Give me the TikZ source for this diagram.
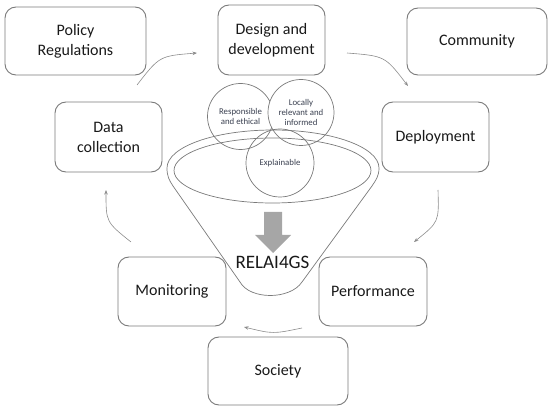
\documentclass[tikz,border=0pt]{standalone}
\usepackage{fontspec}
\setmainfont{Carlito}
\usetikzlibrary{arrows.meta}
\definecolor{boxline}{HTML}{7A7A7A}
\definecolor{arrline}{HTML}{8C8C8C}
\definecolor{blockgray}{HTML}{A6A6A6}
\definecolor{circtext}{HTML}{3A4050}
\tikzset{
  box/.style={draw=boxline, line width=0.9pt, rounded corners=11pt, inner sep=0pt, outer sep=0pt,
    align=center, text=black!90, font=\fontsize{16}{20}\selectfont},
  ring/.style={draw=boxline, line width=0.7pt, circle, inner sep=0pt, outer sep=0pt,
    minimum size=66pt, align=center, text=circtext, font=\fontsize{8.8}{10}\selectfont},
  funnelline/.style={draw=boxline, line width=0.7pt},
  cyc/.style={draw=arrline, line width=0.6pt, -{Stealth[length=4.5pt,width=3.5pt]}},
}
\begin{document}
\begin{tikzpicture}[x=1pt,y=-1pt]
\useasboundingbox (0,0) rectangle (550,409);
% boxes
\node[box, minimum width=141pt, minimum height=68pt] (policy) at (75.5,41) {Policy\\Regulations};
\node[box, minimum width=107pt, minimum height=70pt] (design) at (271.5,40) {Design and\\development};
\node[box, minimum width=140pt, minimum height=67pt] (community) at (477,41.5) {Community};
\node[box, minimum width=107pt, minimum height=70pt] (data) at (108.5,137) {Data\\collection};
\node[box, minimum width=107pt, minimum height=70pt] (deploy) at (435.5,137) {Deployment};
\node[box, minimum width=108pt, minimum height=69pt] (monitor) at (172,291.5) {Monitoring};
\node[box, minimum width=108pt, minimum height=69pt] (perf) at (373,291.5) {Performance};
\node[box, minimum width=140pt, minimum height=68pt] (society) at (278,371) {Society};
% circles
\node[ring, fill=white] (resp) at (240.5,116.5) {Responsible\\and ethical};
\node[ring, fill=white] (local) at (301,112.5) {Locally\\relevant and\\informed};
\node[ring, minimum size=68pt] (expl) at (280,163) {Explainable};
% funnel
\draw[funnelline] (272.5,170.5) ellipse [x radius=98.5pt, y radius=32.5pt];
\draw[funnelline] (167,168) arc[start angle=180, end angle=0, x radius=106pt, y radius=38pt]
  .. controls (379,176) and (376,180) .. (372,186) -- (302,282)
  .. controls (290,300) and (250,300) .. (240,282) -- (173,186)
  .. controls (169,180) and (167,176) .. (167,168);
% block arrow
\fill[blockgray] (264,212) -- (282,212) -- (282,235) -- (291,235) -- (273,253) -- (255,235) -- (264,235) -- cycle;
\node[font=\fontsize{19}{22}\selectfont, text=black!90, inner sep=0pt] (relai) at (272.5,262.5) {RELAI4GS};
% cycle arrows
\coordinate (a1s) at (137,85);  \coordinate (a1e) at (197,53);
\coordinate (a2s) at (347,53);  \coordinate (a2e) at (408,86);
\coordinate (a3s) at (438,190); \coordinate (a3e) at (414,242);
\coordinate (a4s) at (302,328); \coordinate (a4e) at (244,327);
\coordinate (a5s) at (131,242); \coordinate (a5e) at (106,190);
\draw[cyc] (a1s) .. controls (159.5,56) .. (a1e);
\draw[cyc] (a2s) .. controls (385,56) .. (a2e);
\draw[cyc] (a3s) .. controls (439,222) .. (a3e);
\draw[cyc] (a4s) .. controls (273,334) .. (a4e);
\draw[cyc] (a5s) .. controls (106,222) .. (a5e);
\end{tikzpicture}
\end{document}
